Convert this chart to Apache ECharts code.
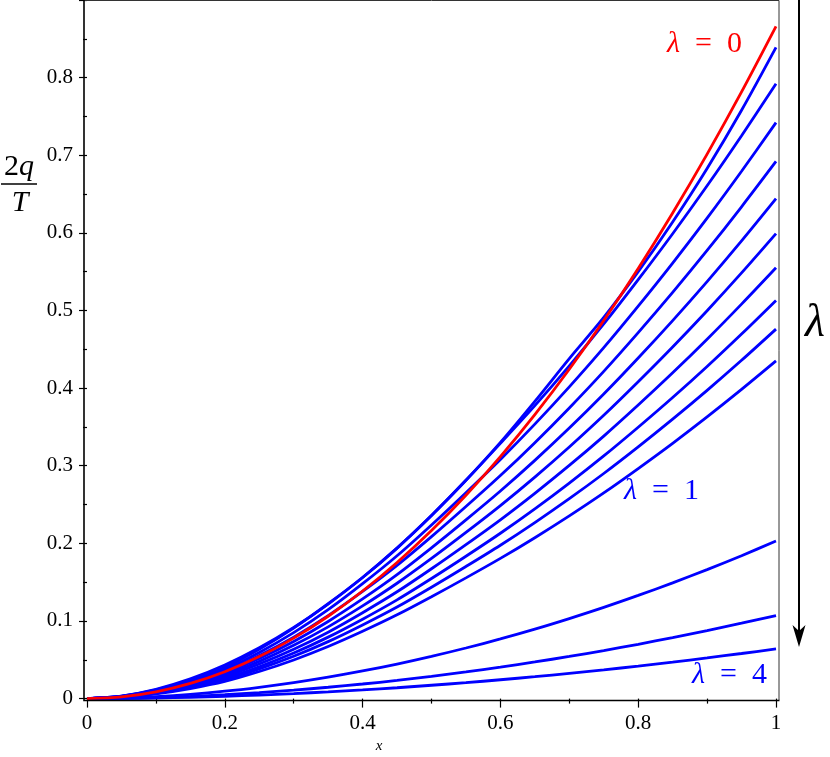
<!DOCTYPE html>
<html><head><meta charset="utf-8">
<script src="https://cdn.jsdelivr.net/npm/echarts@6/dist/echarts.min.js"></script>
<style>html,body{margin:0;padding:0;background:#fff}#c{width:830px;height:757px}</style>
</head><body><div id="c"></div>
<script>
// x sample positions
const xValues = [0, 0.05, 0.1, 0.15, 0.2, 0.25, 0.3, 0.35, 0.4, 0.45, 0.5, 0.55, 0.6, 0.65, 0.7, 0.75, 0.8, 0.85, 0.9, 0.95, 1];
// lambda = 0 (red)
const curveLambda0 = [0, 0.0022, 0.0087, 0.0195, 0.0346, 0.0541, 0.0779, 0.1061, 0.1386, 0.1754, 0.2165, 0.2620, 0.3118, 0.3659, 0.4243, 0.4871, 0.5542, 0.6257, 0.7015, 0.7816, 0.866];
// blue curves between lambda = 0 and lambda = 1 (top to bottom)
const curveBlue1 = [0, 0.0033, 0.0120, 0.0254, 0.0433, 0.0654, 0.0916, 0.1218, 0.1560, 0.1939, 0.2358, 0.2812, 0.3300, 0.3829, 0.4380, 0.4910, 0.5500, 0.6140, 0.6830, 0.7580, 0.839];
const curveBlue2 = [0, 0.0031, 0.0112, 0.0237, 0.0403, 0.0635, 0.0907, 0.1222, 0.1560, 0.1939, 0.2358, 0.2812, 0.3288, 0.3774, 0.4286, 0.4826, 0.5397, 0.5989, 0.6607, 0.7252, 0.792];
const curveBlue3 = [0, 0.0029, 0.0105, 0.0222, 0.0378, 0.0595, 0.0850, 0.1145, 0.1480, 0.1840, 0.2237, 0.2653, 0.3081, 0.3536, 0.4016, 0.4521, 0.5056, 0.5611, 0.6190, 0.6794, 0.742];
const curveBlue4 = [0, 0.0027, 0.0098, 0.0207, 0.0352, 0.0555, 0.0792, 0.1068, 0.1380, 0.1716, 0.2086, 0.2474, 0.2873, 0.3297, 0.3745, 0.4216, 0.4715, 0.5233, 0.5773, 0.6336, 0.692];
const curveBlue5 = [0, 0.0025, 0.0091, 0.0193, 0.0328, 0.0516, 0.0737, 0.0994, 0.1284, 0.1597, 0.1942, 0.2302, 0.2674, 0.3069, 0.3485, 0.3924, 0.4388, 0.4870, 0.5372, 0.5896, 0.644];
const curveBlue6 = [0, 0.0023, 0.0084, 0.0179, 0.0305, 0.0480, 0.0686, 0.0924, 0.1194, 0.1486, 0.1806, 0.2141, 0.2487, 0.2854, 0.3242, 0.3650, 0.4082, 0.4530, 0.4997, 0.5484, 0.599];
const curveBlue7 = [0, 0.0022, 0.0078, 0.0166, 0.0282, 0.0445, 0.0635, 0.0856, 0.1107, 0.1376, 0.1673, 0.1984, 0.2304, 0.2645, 0.3004, 0.3382, 0.3782, 0.4197, 0.4630, 0.5082, 0.555];
const curveBlue8 = [0, 0.0020, 0.0072, 0.0153, 0.0261, 0.0411, 0.0587, 0.0792, 0.1023, 0.1272, 0.1547, 0.1834, 0.2130, 0.2444, 0.2776, 0.3126, 0.3496, 0.3879, 0.4279, 0.4697, 0.513];
const curveBlue9 = [0, 0.0019, 0.0067, 0.0142, 0.0242, 0.0382, 0.0545, 0.0734, 0.0949, 0.1180, 0.1435, 0.1702, 0.1976, 0.2268, 0.2576, 0.2900, 0.3243, 0.3600, 0.3971, 0.4358, 0.476];
const curveLambda1 = [0, 0.0017, 0.0061, 0.0130, 0.0221, 0.0349, 0.0498, 0.0671, 0.0867, 0.1079, 0.1312, 0.1555, 0.1806, 0.2073, 0.2354, 0.2650, 0.2964, 0.3289, 0.3629, 0.3983, 0.435];
// larger lambda
const curveLambda2 = [0, 0.0007, 0.0026, 0.0055, 0.0095, 0.0146, 0.0206, 0.0276, 0.0356, 0.0445, 0.0544, 0.0652, 0.0769, 0.0895, 0.1031, 0.1175, 0.1329, 0.1491, 0.1662, 0.1841, 0.203];
const curveLambda3 = [0, 0.0004, 0.0013, 0.0029, 0.0050, 0.0077, 0.0109, 0.0146, 0.0188, 0.0234, 0.0287, 0.0343, 0.0405, 0.0472, 0.0543, 0.0619, 0.0700, 0.0786, 0.0876, 0.0971, 0.107];
const curveLambda4 = [0, 0.0002, 0.0008, 0.0017, 0.0030, 0.0046, 0.0065, 0.0087, 0.0112, 0.0140, 0.0172, 0.0205, 0.0243, 0.0282, 0.0325, 0.0370, 0.0419, 0.0470, 0.0524, 0.0581, 0.064];

const xTickLabels = ['0', '0.2', '0.4', '0.6', '0.8', '1'];
const yTickLabels = ['0', '0.1', '0.2', '0.3', '0.4', '0.5', '0.6', '0.7', '0.8'];

const blueCurves = [curveBlue1, curveBlue2, curveBlue3, curveBlue4, curveBlue5, curveBlue6,
  curveBlue7, curveBlue8, curveBlue9, curveLambda1, curveLambda2, curveLambda3, curveLambda4];

const SERIF = 'Liberation Serif';
const pair = ys => xValues.map((x, i) => [x, ys[i]]);
const mkLine = (ys, color, z) => ({
  type: 'line', data: pair(ys), smooth: 0.3, showSymbol: false, symbol: 'none',
  lineStyle: { color, width: 2.8 }, z, animation: false, silent: true
});

const series = blueCurves.map(c => mkLine(c, '#0000ff', 2));
series.push(mkLine(curveLambda0, '#ff0000', 3));

const SP = '\u2002';
const chart = echarts.init(document.getElementById('c'), null, { renderer: 'canvas' });
chart.setOption({
  backgroundColor: '#ffffff',
  animation: false,
  textStyle: { fontFamily: SERIF },
  grid: { left: 87, top: -24.1, width: 689, height: 722.7 },
  xAxis: {
    type: 'value', min: 0, max: 1, interval: 0.2, offset: 1.5,
    axisLine: { show: false },
    axisTick: { show: true, length: 9, lineStyle: { color: '#000', width: 1.2 } },
    minorTick: { show: true, splitNumber: 2, length: 5, lineStyle: { color: '#000', width: 1.2 } },
    splitLine: { show: false },
    axisLabel: {
      color: '#000', fontFamily: SERIF, fontSize: 21, margin: 13,
      formatter: v => xTickLabels[Math.round(v / 0.2)] ?? ''
    }
  },
  yAxis: {
    type: 'value', min: 0, max: 0.9, interval: 0.1, offset: 3,
    axisLine: { show: false },
    axisTick: { show: true, length: 8, lineStyle: { color: '#000', width: 1.2 } },
    minorTick: { show: true, splitNumber: 2, length: 4, lineStyle: { color: '#000', width: 1.2 } },
    splitLine: { show: false },
    axisLabel: {
      color: '#000', fontFamily: SERIF, fontSize: 21, margin: 11,
      formatter: v => yTickLabels[Math.round(v / 0.1)] ?? ''
    }
  },
  series,
  graphic: [
    { type: 'polyline', shape: { points: [[84, 0.5], [779, 0.5], [779, 700]] },
      style: { stroke: '#333', lineWidth: 1, fill: null }, z: 10 },
    { type: 'polyline', shape: { points: [[84, 0], [84, 700.5], [779.5, 700.5]] },
      style: { stroke: '#000', lineWidth: 1.6, fill: null }, z: 10 },
    // arrow
    { type: 'line', shape: { x1: 799, y1: 0, x2: 799, y2: 636 },
      style: { stroke: '#000', lineWidth: 2 }, z: 10 },
    { type: 'polygon', shape: { points: [[799, 647], [792.5, 625], [799, 631], [805.5, 625]] },
      style: { fill: '#000' }, z: 10 },
    { type: 'text', x: 805, y: 324, z: 10,
      style: { text: 'λ', fontFamily: SERIF, fontStyle: 'italic', fontSize: 46, fill: '#000', verticalAlign: 'middle' } },
    // curve labels
    { type: 'text', x: 667, y: 44, z: 10,
      style: { text: '{i|λ}' + SP + '=' + SP + '0', fill: '#ff0000', fontFamily: SERIF, fontSize: 30, verticalAlign: 'middle',
        rich: { i: { fontStyle: 'italic', fontSize: 30, fontFamily: SERIF, fill: '#ff0000' } } } },
    { type: 'text', x: 624, y: 491, z: 10,
      style: { text: '{i|λ}' + SP + '=' + SP + '1', fill: '#0000ff', fontFamily: SERIF, fontSize: 30, verticalAlign: 'middle',
        rich: { i: { fontStyle: 'italic', fontSize: 30, fontFamily: SERIF, fill: '#0000ff' } } } },
    { type: 'text', x: 692, y: 675, z: 10,
      style: { text: '{i|λ}' + SP + '=' + SP + '4', fill: '#0000ff', fontFamily: SERIF, fontSize: 30, verticalAlign: 'middle',
        rich: { i: { fontStyle: 'italic', fontSize: 30, fontFamily: SERIF, fill: '#0000ff' } } } },
    // y axis name 2q / T
    { type: 'text', x: 19, y: 167, z: 10,
      style: { text: '2{i|q}', fill: '#000', fontFamily: SERIF, fontSize: 30, align: 'center', verticalAlign: 'middle',
        rich: { i: { fontStyle: 'italic', fontSize: 30, fontFamily: SERIF } } } },
    { type: 'line', shape: { x1: 1, y1: 184, x2: 37, y2: 184 }, style: { stroke: '#000', lineWidth: 1.5 }, z: 10 },
    { type: 'text', x: 20, y: 203, z: 10,
      style: { text: 'T', fill: '#000', fontFamily: SERIF, fontStyle: 'italic', fontSize: 30, align: 'center', verticalAlign: 'middle' } },
    // x axis name
    { type: 'text', x: 379, y: 746, z: 10,
      style: { text: 'x', fill: '#000', fontFamily: SERIF, fontStyle: 'italic', fontSize: 15, align: 'center', verticalAlign: 'middle' } }
  ]
});
</script></body></html>
